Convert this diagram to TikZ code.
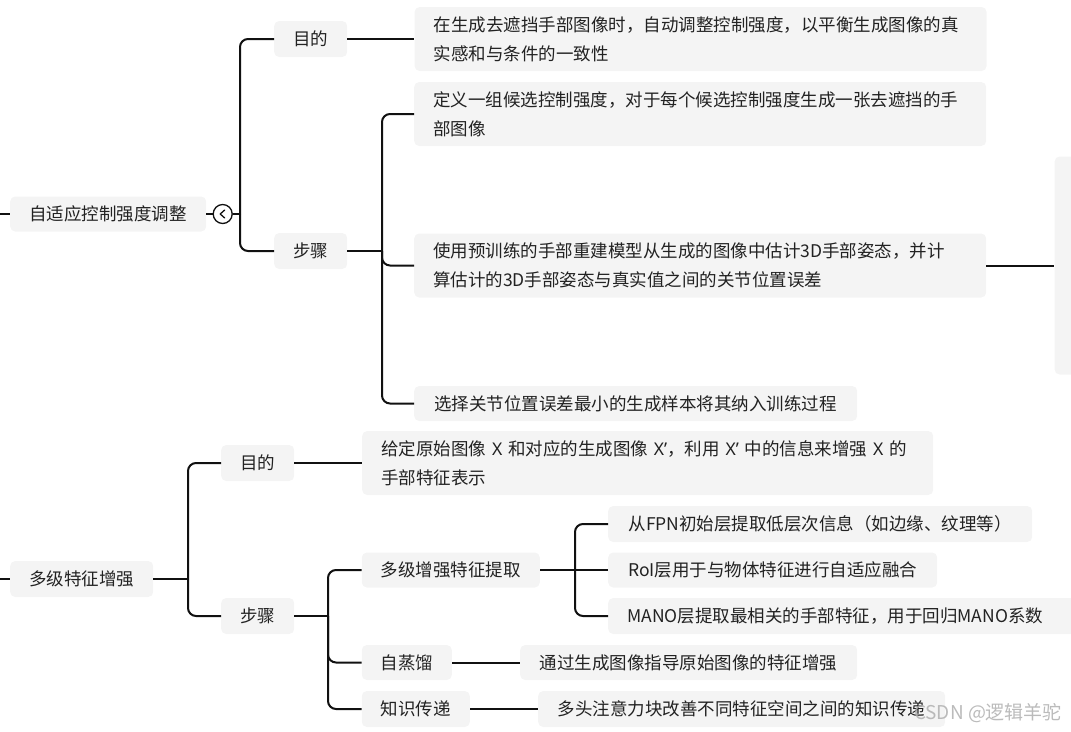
\documentclass[tikz,border=0pt]{standalone}
\usepackage{fontspec}
\newfontfamily\cjkfont{Noto Sans CJK SC}
\newfontfamily\latinfont{Noto Sans}
\usepackage{tikz}
\usetikzlibrary{positioning}
\definecolor{mapFill}{RGB}{244,244,244}
\definecolor{mapText}{RGB}{34,34,34}
\definecolor{mapLine}{RGB}{17,17,17}
\definecolor{markGray}{RGB}{175,175,175}
\newcommand{\xp}{{\latinfont X’}}
\newcommand{\xx}{{\latinfont X}}

\begin{document}
\begin{tikzpicture}[
        x=1pt, y=-1pt,
        font=\cjkfont\fontsize{17.5}{29}\selectfont,
        topic/.style={
            rectangle, rounded corners=5pt, fill=mapFill, text=mapText,
            minimum height=35pt, inner xsep=0pt, inner ysep=0pt,
            align=center, anchor=west
        },
        note/.style={
            rectangle, rounded corners=5pt, fill=mapFill, text=mapText,
            minimum height=35pt, inner xsep=19pt, inner ysep=0pt,
            align=left, anchor=west
        },
        fold/.style={
            circle, draw=mapLine, line width=1.3pt, fill=white,
            minimum size=19pt, inner sep=0pt
        },
        line/.style={draw=mapLine, line width=2pt, rounded corners=8pt}
    ]

    \useasboundingbox (0,0) rectangle (1071,731);
    \clip (0,0) rectangle (1071,731);

    % BRANCH 1: adaptive control strength
    \coordinate (in1) at (0,214);
    \node[topic, minimum width=196pt] (adapt) at (10,214) {自适应控制强度调整};
    \node[fold] (fold) at (222.7,214) {};
    \coordinate (j1) at (240,214);

    \node[topic, minimum width=73pt, minimum height=36pt] (goal1) at (274,39) {目的};
    \node[topic, minimum width=73pt, minimum height=36pt] (step1) at (274,251) {步骤};

    \node[note, text width=534pt, minimum height=64pt, right=67pt of goal1] (goal1t)
        {在生成去遮挡手部图像时，自动调整控制强度，以平衡生成图像的真\\实感和与条件的一致性};

    \coordinate (j2) at (382,251);
    \node[note, text width=534pt, minimum height=64pt] (s1a) at (414,114)
        {定义一组候选控制强度，对于每个候选控制强度生成一张去遮挡的手\\部图像};
    \node[note, text width=534pt, minimum height=64pt] (s1b) at (414,265.5)
        {使用预训练的手部重建模型从生成的图像中估计3D手部姿态，并计\\算估计的3D手部姿态与真实值之间的关节位置误差};
    \node[note, minimum width=443pt] (s1c) at (414,403.5)
        {选择关节位置误差最小的生成样本将其纳入训练过程};
    \node[note, minimum width=60pt, minimum height=218pt, right=68pt of s1b] (s1bnext) {};

    % BRANCH 2: multi-level feature enhancement
    \coordinate (in2) at (0,579);
    \node[topic, minimum width=143pt, minimum height=36pt] (enh) at (10,579) {多级特征增强};
    \coordinate (j3) at (188,579);

    \node[topic, minimum width=73pt, minimum height=36pt] (goal2) at (221,463) {目的};
    \node[topic, minimum width=73pt, minimum height=36pt] (step2) at (221,616) {步骤};

    \node[note, text width=533pt, minimum height=64pt, right=67.6pt of goal2] (goal2t)
        {给定原始图像~\xx~和对应的生成图像~\xp，利用~\xp~中的信息来增强~\xx~的\\手部特征表示};

    \coordinate (j4) at (328,616);
    \node[topic, minimum width=178pt] (multi) at (361.6,570) {多级增强特征提取};
    \node[topic, minimum width=90pt] (distill) at (361.6,662.5) {自蒸馏};
    \node[topic, minimum width=108pt, minimum height=36pt] (trans) at (361.6,709) {知识传递};

    \coordinate (j5) at (575,570);
    \node[note, minimum width=424pt, minimum height=36pt] (fpn) at (608,524)
        {从FPN初始层提取低层次信息（如边缘、纹理等）};
    \node[note, minimum width=329pt] (roi) at (608,570)
        {RoI层用于与物体特征进行自适应融合};
    \node[note, text width=450pt, minimum height=36pt] (mano) at (608,616)
        {MANO层提取最相关的手部特征，用于回归MANO系数};

    \node[note, minimum width=337pt, right=68pt of distill] (distillt)
        {通过生成图像指导原始图像的特征增强};
    \node[note, minimum width=407pt, minimum height=36pt, right=68pt of trans] (transt)
        {多头注意力块改善不同特征空间之间的知识传递};

    % CONNECTORS
    \draw[line] (in1) -- (adapt.west);
    \draw[line] (adapt.east) -- (fold.west);
    \draw[line] (fold.east) -- (j1);
    \draw[mapLine, line width=1.3pt, line cap=round, line join=round]
        ([shift={(2,-4)}]fold.center) -- ([shift={(-2.5,0)}]fold.center) -- ([shift={(2,4)}]fold.center);
    \draw[line] (j1) |- (goal1.west);
    \draw[line] (j1) |- (step1.west);
    \draw[line] (goal1.east) -- (goal1t.west);
    \draw[line] (step1.east) -- (j2);
    \draw[line] (j2) |- (s1a.west);
    \draw[line] (j2) |- (s1b.west);
    \draw[line] (j2) |- (s1c.west);
    \draw[line] (s1b.east) -- (s1bnext.west);

    \draw[line] (in2) -- (enh.west);
    \draw[line] (enh.east) -- (j3);
    \draw[line] (j3) |- (goal2.west);
    \draw[line] (j3) |- (step2.west);
    \draw[line] (goal2.east) -- (goal2t.west);
    \draw[line] (step2.east) -- (j4);
    \draw[line] (j4) |- (multi.west);
    \draw[line] (j4) |- (distill.west);
    \draw[line] (j4) |- (trans.west);
    \draw[line] (multi.east) -- (j5);
    \draw[line] (j5) |- (fpn.west);
    \draw[line] (j5) -- (roi.west);
    \draw[line] (j5) |- (mano.west);
    \draw[line] (distill.east) -- (distillt.west);
    \draw[line] (trans.east) -- (transt.west);

    % WATERMARK
    \node[text=markGray, text opacity=0.85, font=\cjkfont\fontsize{19}{22}\selectfont] (mark)
        at (988,713) {CSDN @逻辑羊驼};

\end{tikzpicture}
\end{document}
